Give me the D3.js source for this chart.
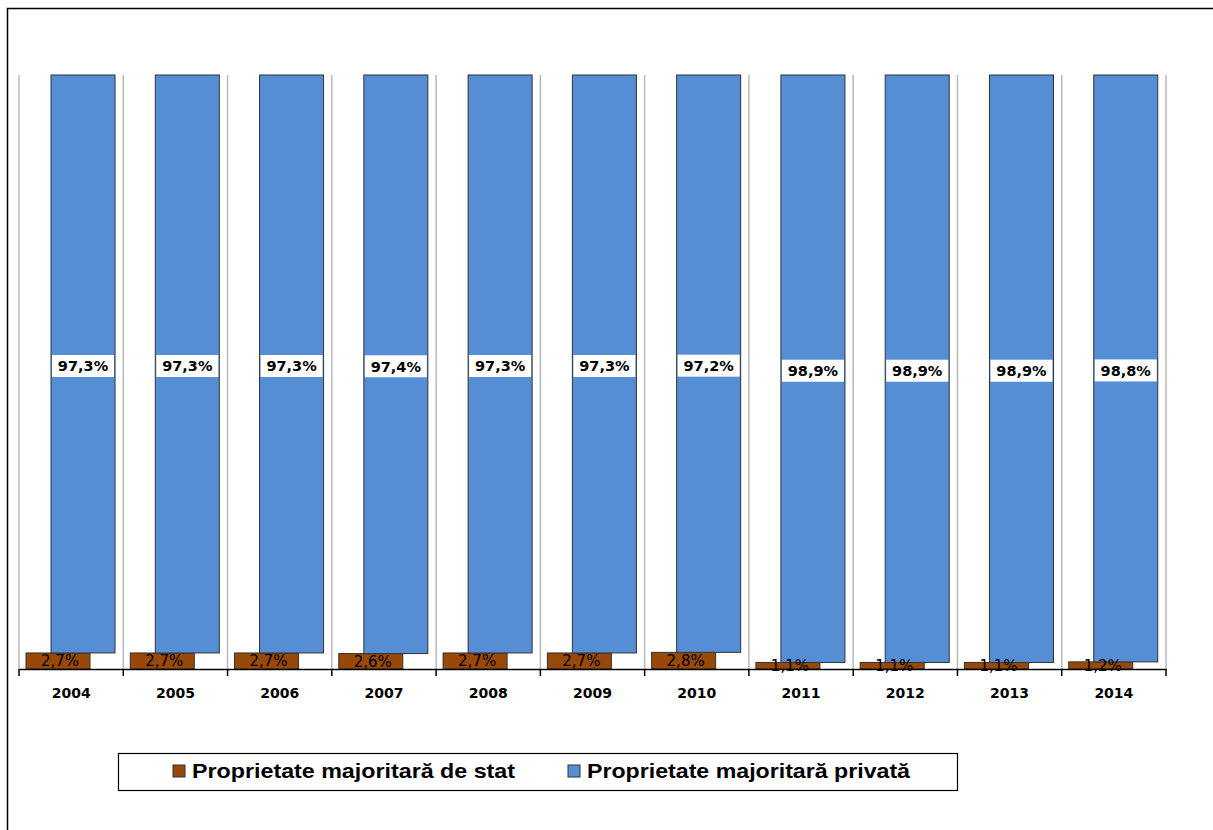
<!DOCTYPE html>
<html>
<head>
<meta charset="utf-8">
<title>proprietate</title>
<script src="https://cdn.jsdelivr.net/npm/d3@7"></script>
<style>
    body{ margin:0; background:#fff; }
    svg{ display:block; }
</style>
</head>
<body>
<div id="chart"></div>
<script>
    var years = ["2004","2005","2006","2007","2008","2009","2010","2011","2012","2013","2014"]
    var stat = [2.7,2.7,2.7,2.6,2.7,2.7,2.8,1.1,1.1,1.1,1.2]
    var privat = [97.3,97.3,97.3,97.4,97.3,97.3,97.2,98.9,98.9,98.9,98.8]
    var seriesNames = ["Proprietate majoritară de stat","Proprietate majoritară privată"]
    var colors = ["#984807","#558ED5"]

    var w = 1213
    var h = 830
    var fmt = function(v){ return v.toFixed(1).replace(".", ",") + "%" }

    var svg = d3.select("#chart").append("svg")
        .attr("width", w)
        .attr("height", h)

    // outer frame
    svg.append("rect")
        .attr("x", 7.5).attr("y", 8.5)
        .attr("width", 1210).attr("height", 830)
        .attr("fill", "#fff")
        .attr("stroke", "#000").attr("stroke-width", 1.5)

    var xScale = d3.scaleBand().domain(years).range([19, 1166]).padding(0)
    var yScale = d3.scaleLinear().domain([0, 100]).range([669, 75])
    var bw = xScale.bandwidth()
    var barW = bw * 0.614

    // vertical gridlines at category boundaries
    var bounds = years.map(function(d){ return xScale(d) }).concat([xScale.range()[1]])
    svg.selectAll(".grid")
        .data(bounds)
        .enter()
        .append("line")
        .attr("class", "grid")
        .attr("x1", function(d){ return d }).attr("x2", function(d){ return d })
        .attr("y1", yScale(100)).attr("y2", yScale(0))
        .attr("stroke", "#b8b8b8").attr("stroke-width", 1.5)

    // state bars (bottom, shifted left)
    svg.selectAll(".stat")
        .data(years)
        .enter()
        .append("rect")
        .attr("class", "stat")
        .attr("x", function(d){ return xScale(d) + bw * 0.067 })
        .attr("y", function(d,i){ return yScale(stat[i]) })
        .attr("width", barW)
        .attr("height", function(d,i){ return yScale(0) - yScale(stat[i]) })
        .attr("fill", colors[0])
        .attr("stroke", "#333").attr("stroke-width", 1)

    // private bars (stacked on top, shifted right)
    svg.selectAll(".privat")
        .data(years)
        .enter()
        .append("rect")
        .attr("class", "privat")
        .attr("x", function(d){ return xScale(d) + bw * 0.307 })
        .attr("y", function(d,i){ return yScale(stat[i] + privat[i]) })
        .attr("width", barW)
        .attr("height", function(d,i){ return yScale(stat[i]) - yScale(stat[i] + privat[i]) })
        .attr("fill", colors[1])
        .attr("stroke", "#333").attr("stroke-width", 1)

    // x axis
    var xAxis = d3.axisBottom(xScale).tickSize(0).tickPadding(19).tickFormat(function(d){ return d })
    var gx = svg.append("g")
        .attr("transform", "translate(0," + yScale(0) + ")")
        .call(xAxis)
    gx.select(".domain").attr("stroke", "#000").attr("stroke-width", 1.5)
    gx.selectAll("text")
        .attr("font-family", "DejaVu Sans, Verdana, sans-serif")
        .attr("font-weight", "bold")
        .attr("font-size", 14)
        .attr("fill", "#000")
    svg.selectAll(".xtick")
        .data(bounds)
        .enter()
        .append("line")
        .attr("x1", function(d){ return d }).attr("x2", function(d){ return d })
        .attr("y1", yScale(0)).attr("y2", yScale(0) + 7)
        .attr("stroke", "#000").attr("stroke-width", 1.5)

    // private labels with white boxes
    var lab = svg.selectAll(".plab")
        .data(years)
        .enter()
        .append("g")
        .attr("class", "plab")
        .attr("transform", function(d,i){
            var cx = xScale(d) + bw * 0.307 + barW / 2
            var cy = (yScale(stat[i] + privat[i]) + yScale(stat[i])) / 2 + 2
            return "translate(" + cx + "," + cy + ")"
        })
    lab.append("rect")
        .attr("x", -31).attr("y", -11)
        .attr("width", 62).attr("height", 22)
        .attr("fill", "#fff")
    lab.append("text")
        .attr("text-anchor", "middle")
        .attr("dy", "0.36em")
        .attr("font-family", "DejaVu Sans, Verdana, sans-serif")
        .attr("font-weight", "bold")
        .attr("font-size", 14.5)
        .attr("fill", "#000")
        .text(function(d,i){ return fmt(privat[i]) })

    // state labels
    svg.selectAll(".slab")
        .data(years)
        .enter()
        .append("text")
        .attr("class", "slab")
        .attr("x", function(d){ return xScale(d) + bw * 0.067 + barW / 2 + 2 })
        .attr("y", function(d,i){ return (yScale(stat[i]) + yScale(0)) / 2 })
        .attr("dy", "0.36em")
        .attr("text-anchor", "middle")
        .attr("font-family", "DejaVu Sans, Verdana, sans-serif")
        .attr("font-size", 15)
        .attr("fill", "#000")
        .text(function(d,i){ return fmt(stat[i]) })

    // legend
    svg.append("rect")
        .attr("x", 118.5).attr("y", 753.5)
        .attr("width", 839).attr("height", 37)
        .attr("fill", "#fff")
        .attr("stroke", "#000").attr("stroke-width", 1.2)
    var legX = [173, 568]
    var leg = svg.selectAll(".leg")
        .data(seriesNames)
        .enter()
        .append("g")
        .attr("class", "leg")
        .attr("transform", function(d,i){ return "translate(" + legX[i] + ",765)" })
    leg.append("rect")
        .attr("width", 12).attr("height", 12)
        .attr("fill", function(d,i){ return colors[i] })
        .attr("stroke", "#333").attr("stroke-width", 1)
    leg.append("text")
        .attr("x", 19).attr("y", 13)
        .attr("font-family", "Liberation Sans, Arial, sans-serif")
        .attr("font-weight", "bold")
        .attr("font-size", 21)
        .attr("textLength", 323)
        .attr("lengthAdjust", "spacingAndGlyphs")
        .attr("fill", "#000")
        .text(function(d){ return d })
</script>
</body>
</html>
